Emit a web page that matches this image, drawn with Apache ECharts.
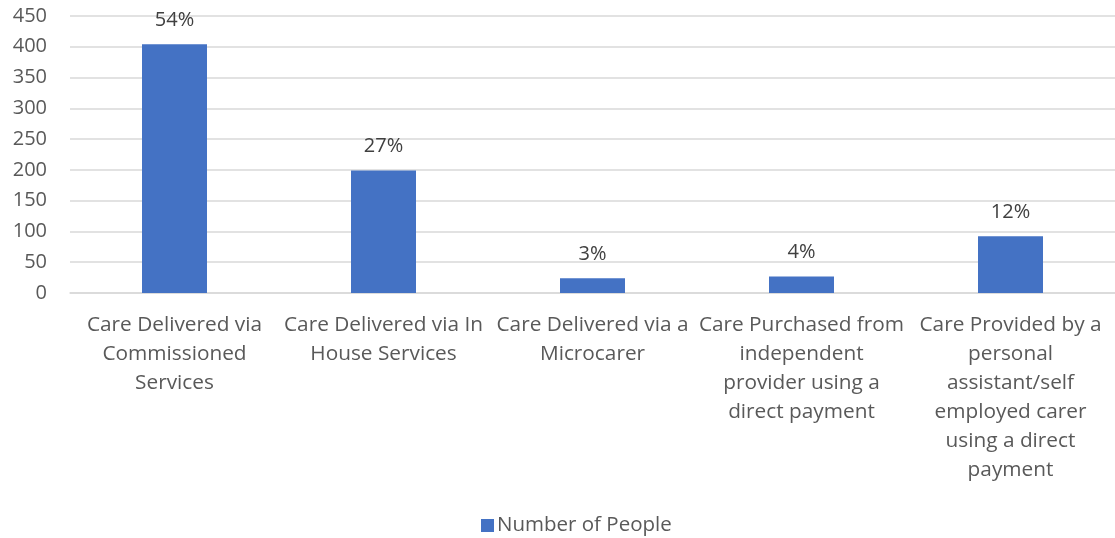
<!DOCTYPE html>
<html>
<head>
<meta charset="utf-8">
<script src="https://cdn.jsdelivr.net/npm/echarts@6/dist/echarts.min.js"></script>
<style>
  html, body { margin: 0; padding: 0; background: #ffffff; }
  #chart { width: 1115px; height: 538px; }
</style>
</head>
<body>
<div id="chart"></div>
<script>
// Care delivery routes and the number of people receiving each
const categories = [
  'Care Delivered via\nCommissioned\nServices',
  'Care Delivered via In\nHouse Services',
  'Care Delivered via a\nMicrocarer',
  'Care Purchased from\nindependent\nprovider using a\ndirect payment',
  'Care Provided by a\npersonal\nassistant/self\nemployed carer\nusing a direct\npayment'
];
const numberOfPeople = [404, 199, 24, 27, 92];
const seriesName = 'Number of People';
const yTicks = { min: 0, max: 450, interval: 50 };

const total = numberOfPeople.reduce((a, b) => a + b, 0);
const font = '"Open Sans", "Noto Sans", sans-serif';
const textColor = '#595959';

const chart = echarts.init(document.getElementById('chart'), null, { renderer: 'canvas' });
chart.setOption({
  animation: false,
  backgroundColor: '#ffffff',
  textStyle: { fontFamily: font },
  grid: { left: 70, top: 16, width: 1047, height: 277, containLabel: false },
  legend: {
    data: [seriesName],
    left: 476,
    top: 510,
    itemWidth: 13,
    itemHeight: 13,
    itemGap: 6,
    icon: 'rect',
    textStyle: { color: textColor, fontSize: 20.5, fontFamily: font, padding: [0, 0, 0, -2] }
  },
  xAxis: {
    type: 'category',
    data: categories,
    axisLine: { show: true, lineStyle: { color: '#d9d9d9', width: 1.5 } },
    axisTick: { show: false },
    axisLabel: {
      interval: 0,
      color: textColor,
      fontSize: 20.8,
      lineHeight: 29,
      margin: 18,
      fontFamily: font,
      align: 'center'
    }
  },
  yAxis: {
    type: 'value',
    min: yTicks.min,
    max: yTicks.max,
    interval: yTicks.interval,
    axisLine: { show: false },
    axisTick: { show: false },
    splitLine: { lineStyle: { color: '#d9d9d9', width: 1.5 } },
    axisLabel: { color: textColor, fontSize: 20, margin: 23, fontFamily: font }
  },
  series: [{
    name: seriesName,
    type: 'bar',
    data: numberOfPeople,
    barWidth: 65,
    itemStyle: { color: '#4472C4' },
    label: {
      show: true,
      position: 'top',
      distance: 14,
      color: '#404040',
      fontSize: 20,
      fontFamily: font,
      formatter: p => Math.round(p.value / total * 100) + '%'
    }
  }]
});
</script>
</body>
</html>
